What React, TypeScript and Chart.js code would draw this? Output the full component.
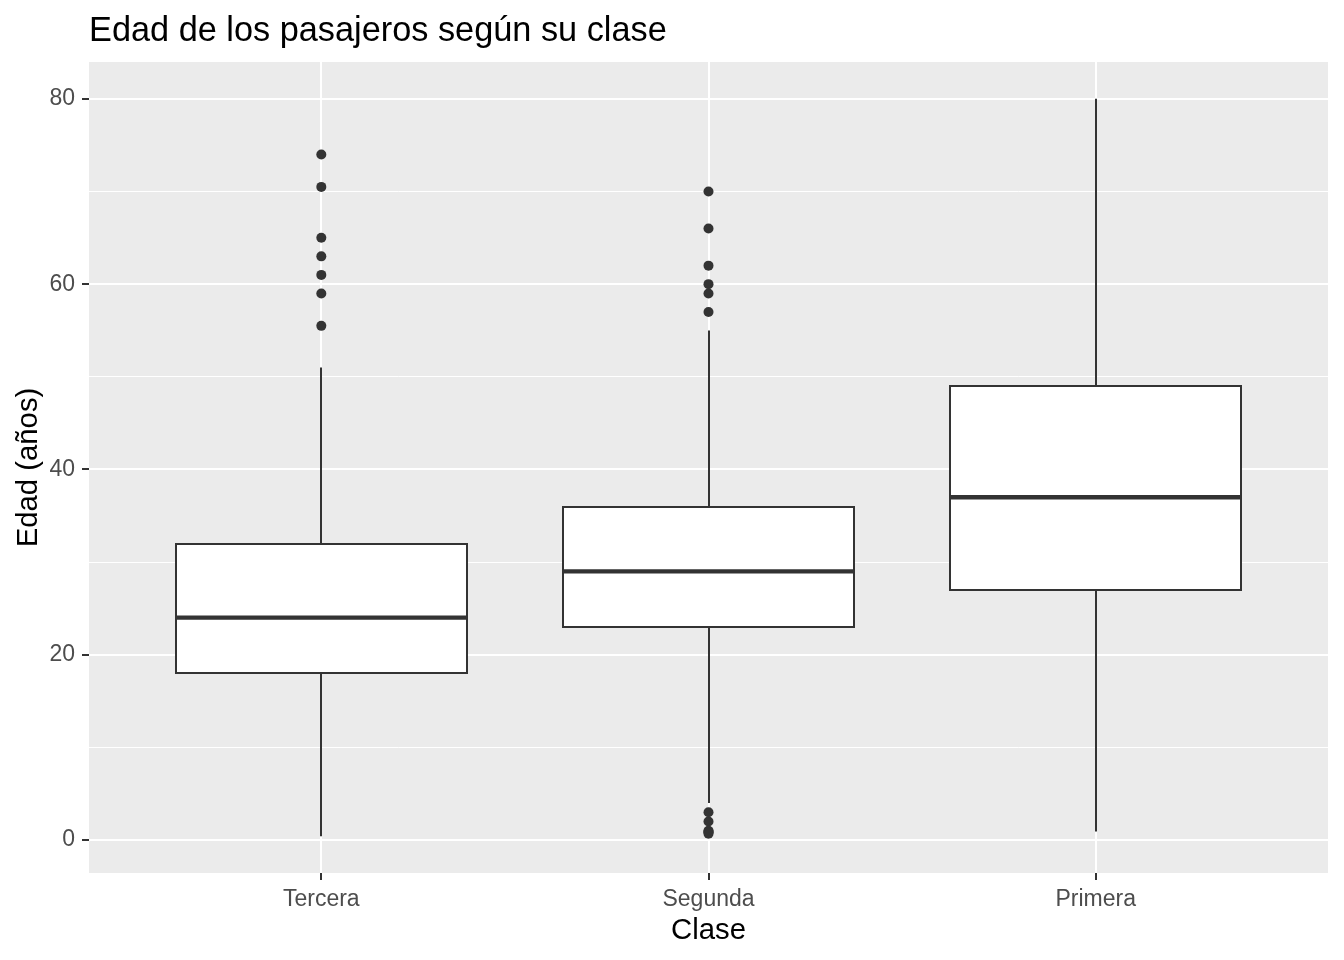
import React, { useEffect, useRef } from 'react';
import { Chart, registerables } from 'chart.js';

Chart.register(...registerables);

const categories = ['Tercera', 'Segunda', 'Primera'];
const whiskerLow = [0.42, 4, 0.92];
const q1 = [18, 23, 27];
const median = [24, 29, 37];
const q3 = [32, 36, 49];
const whiskerHigh = [51, 55, 80];
const outliersTercera = [55.5, 59, 61, 63, 65, 70.5, 74];
const outliersSegunda = [57, 59, 60, 62, 66, 70, 3, 2, 1, 0.92, 0.83, 0.67];
const outliersPrimera: number[] = [];
const yTicks = [0, 10, 20, 30, 40, 50, 60, 70, 80];
const yLabelStep = 20;

const FONT = '"Liberation Sans", Arial, sans-serif';
const INK = '#333333';

const boxPlugin = {
  id: 'ggBoxes',
  beforeDraw(chart: any) {
    const { ctx, chartArea } = chart;
    ctx.save();
    ctx.fillStyle = '#EBEBEB';
    ctx.fillRect(chartArea.left, chartArea.top, chartArea.right - chartArea.left, chartArea.bottom - chartArea.top);
    ctx.restore();
  },
  beforeDatasetsDraw(chart: any) {
    const { ctx } = chart;
    const x = chart.scales.x;
    const y = chart.scales.y;
    ctx.save();
    ctx.strokeStyle = INK;
    const line = (x1: number, y1: number, x2: number, y2: number, w: number) => {
      ctx.lineWidth = w;
      ctx.beginPath();
      ctx.moveTo(x1, y1);
      ctx.lineTo(x2, y2);
      ctx.stroke();
    };
    categories.forEach((_c, i) => {
      const cx = Math.round(x.getPixelForValue(i + 1));
      const l = Math.round(x.getPixelForValue(i + 1 - 0.375));
      const r = Math.round(x.getPixelForValue(i + 1 + 0.375));
      const yLo = y.getPixelForValue(whiskerLow[i]);
      const yQ1 = Math.round(y.getPixelForValue(q1[i]));
      const yMed = y.getPixelForValue(median[i]);
      const yQ3 = Math.round(y.getPixelForValue(q3[i]));
      const yHi = y.getPixelForValue(whiskerHigh[i]);
      line(cx, yHi, cx, yQ3, 2);
      line(cx, yQ1, cx, yLo, 2);
      ctx.fillStyle = '#FFFFFF';
      ctx.fillRect(l, yQ3, r - l, yQ1 - yQ3);
      ctx.lineWidth = 2;
      ctx.strokeRect(l, yQ3, r - l, yQ1 - yQ3);
      line(l, yMed, r, yMed, 4.3);
    });
    ctx.restore();
  },
};

export default function App() {
  const ref = useRef<HTMLCanvasElement | null>(null);
  useEffect(() => {
    document.body.style.margin = '0';
    const canvas = ref.current;
    if (!canvas) return;
    const points = [
      ...outliersTercera.map((v) => ({ x: 1, y: v })),
      ...outliersSegunda.map((v) => ({ x: 2, y: v })),
      ...outliersPrimera.map((v) => ({ x: 3, y: v })),
    ];
    const chart = new Chart(canvas, {
      type: 'scatter',
      data: {
        datasets: [
          {
            data: points,
            pointRadius: 5,
            pointBorderWidth: 0,
            pointBackgroundColor: INK,
            pointBorderColor: INK,
          },
        ],
      },
      plugins: [boxPlugin],
      options: {
        animation: false,
        responsive: false,
        devicePixelRatio: 1,
        layout: { padding: { left: 0, right: 16, top: 0, bottom: 0 } },
        plugins: {
          legend: { display: false },
          tooltip: { enabled: false },
          title: {
            display: true,
            text: 'Edad de los pasajeros según su clase',
            align: 'start',
            fullSize: false,
            color: '#000000',
            font: { family: FONT, size: 34.3, weight: 'normal' },
            padding: { top: 10.5, bottom: 10.34 },
          },
        },
        scales: {
          x: {
            type: 'linear',
            min: 0.4,
            max: 3.6,
            afterBuildTicks: (scale: any) => {
              scale.ticks = categories.map((_c, i) => ({ value: i + 1 }));
            },
            afterFit: (scale: any) => {
              scale.height = 87;
            },
            ticks: {
              autoSkip: false,
              maxRotation: 0,
              padding: 6,
              color: '#4D4D4D',
              font: { family: FONT, size: 23 },
              callback: (v: any) => categories[Math.round(Number(v)) - 1] ?? '',
            },
            grid: {
              color: '#FFFFFF',
              lineWidth: 2,
              drawTicks: true,
              tickLength: 7,
              tickColor: INK,
              tickWidth: 2,
            },
            border: { display: false },
            title: {
              display: true,
              text: 'Clase',
              color: '#000000',
              font: { family: FONT, size: 29.3 },
              padding: { top: 0, bottom: 12 },
            },
          },
          y: {
            type: 'linear',
            min: -3.56,
            max: 83.98,
            afterBuildTicks: (scale: any) => {
              scale.ticks = yTicks.map((v) => ({ value: v }));
            },
            afterFit: (scale: any) => {
              scale.width = 89;
            },
            ticks: {
              autoSkip: false,
              padding: 7,
              color: '#4D4D4D',
              font: { family: FONT, size: 23 },
              callback: (v: any) => (Number(v) % yLabelStep === 0 ? String(v) : ''),
            },
            grid: {
              color: '#FFFFFF',
              lineWidth: (ctx: any) => (ctx.tick && ctx.tick.value % yLabelStep === 0 ? 2 : 1),
              drawTicks: true,
              tickLength: 7,
              tickColor: (ctx: any) => (ctx.tick && ctx.tick.value % yLabelStep === 0 ? INK : 'rgba(0,0,0,0)'),
              tickWidth: 2,
            },
            border: { display: false },
            title: {
              display: true,
              text: 'Edad (años)',
              color: '#000000',
              font: { family: FONT, size: 29.3 },
              padding: { top: 11, bottom: 0 },
            },
          },
        },
      } as any,
    });
    return () => chart.destroy();
  }, []);
  return (
    <div style={{ position: 'absolute', left: 0, top: 0, width: 1344, height: 960 }}>
      <canvas ref={ref} width={1344} height={960} />
    </div>
  );
}
